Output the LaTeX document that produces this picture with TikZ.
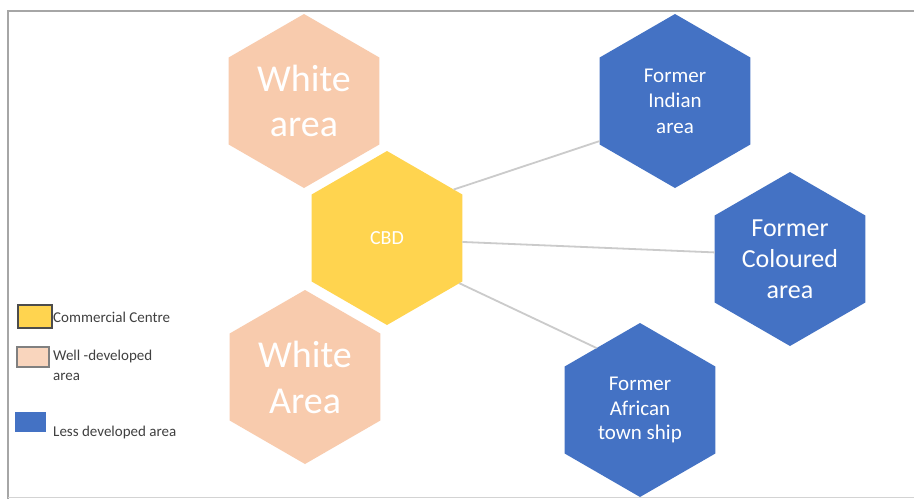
\documentclass[tikz,border=0pt]{standalone}
\usepackage{fontspec}
\setmainfont{Carlito}
\usetikzlibrary{shapes.geometric}
\definecolor{peach}{HTML}{F8CBAD}
\definecolor{cbdyellow}{HTML}{FFD44F}
\definecolor{hexblue}{HTML}{4472C4}
\definecolor{framegray}{HTML}{A6A6A6}
\definecolor{conngray}{HTML}{CBCBCB}
\definecolor{legtext}{HTML}{404040}
\begin{document}
\begin{tikzpicture}[x=1pt,y=-1pt,
  hexa/.style={regular polygon, regular polygon sides=6, shape border rotate=30,
    minimum size=174pt, inner sep=0pt, outer sep=0pt, text=white, align=center},
  conn/.style={conngray, line width=1.8pt},
  legbox/.style={inner sep=0pt, outer sep=0pt, line width=1.1pt},
  legtxt/.style={anchor=west, inner sep=0pt, text=legtext, align=left,
    font=\fontsize{15}{20}\selectfont}]
\useasboundingbox[fill=white] (0,0) rectangle (914,499);
% frame
\draw[framegray, line width=2pt] (8,499) -- (8,11) -- (914,11);
\draw[framegray!50, line width=1pt] (8,497.5) -- (914,497.5);
% hexagons
\node[hexa, fill=peach, font=\fontsize{38}{45}\selectfont] (wa1) at (304,101) {White\\area};
\node[hexa, fill=peach, font=\fontsize{38}{46}\selectfont] (wa2) at (305,377) {White\\Area};
\node[hexa, fill=cbdyellow, font=\fontsize{20}{24}\selectfont] (cbd) at (387,238) {CBD};
\node[hexa, fill=hexblue, font=\fontsize{21}{25.5}\selectfont] (ind) at (675,101) {Former\\Indian\\area};
\node[hexa, fill=hexblue, font=\fontsize{26}{31}\selectfont] (col) at (790,259) {Former\\Coloured\\area};
\node[hexa, fill=hexblue, font=\fontsize{21}{24.5}\selectfont] (afr) at (640,410) {Former\\African\\town ship};
% connectors
\draw[conn] (cbd.36) -- (ind.208);
\draw[conn] (cbd.-3) -- (col.175);
\draw[conn] (cbd.-32) -- (afr.125);
% legend
\node[legbox, draw=black!70, fill=cbdyellow, minimum width=34pt, minimum height=23pt] (lg1) at (35,316.5) {};
\node[legtxt] (lt1) at (53,317) {Commercial Centre};
\node[legbox, draw=black!50, fill=peach!80, minimum width=32pt, minimum height=20pt] (lg2) at (33,357) {};
\node[legtxt] (lt2) at (53,365) {Well -developed\\area};
\node[legbox, fill=hexblue, minimum width=31pt, minimum height=20pt] (lg3) at (30.5,422) {};
\node[legtxt] (lt3) at (53,432) {Less developed area};
\end{tikzpicture}
\end{document}
